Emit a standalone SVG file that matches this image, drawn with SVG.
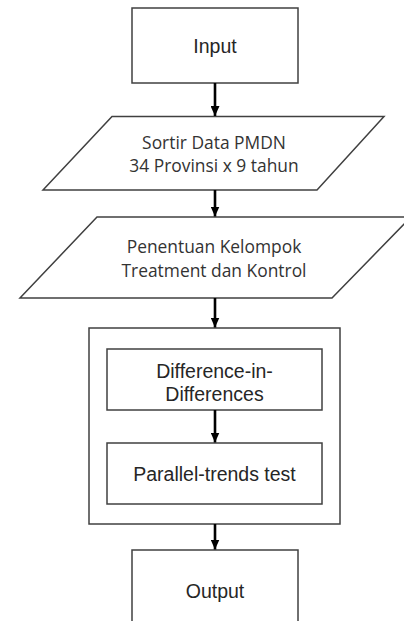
<svg xmlns="http://www.w3.org/2000/svg" width="404" height="621" viewBox="0 0 404 621">
  <defs>
    <marker id="arrowhead" markerUnits="userSpaceOnUse" markerWidth="10" markerHeight="9" refX="10" refY="4.5" orient="auto">
      <path d="M0,0 L10,4.5 L0,9 Z" fill="#000"/>
    </marker>
  </defs>
  <style>
    .shape { fill: #fff; stroke: #404040; stroke-width: 1.5; }
    .lbl { font-family: "Liberation Sans", Arial, sans-serif; font-size: 19.5px; fill: #262626; text-anchor: middle; }
    .lbl2 { font-family: "Open Sans", "Noto Sans", sans-serif; font-size: 17.4px; fill: #333; text-anchor: middle; }
    .conn { stroke: #000; stroke-width: 2.6; fill: none; marker-end: url(#arrowhead); }
  </style>
  <rect width="404" height="621" fill="#fff"/>

  <!-- outer container around the analysis steps -->
  <g id="analysis-group">
    <rect class="shape" x="89" y="328" width="251" height="196"/>
  </g>

  <g id="input">
    <rect class="shape" x="132" y="8" width="166" height="75"/>
    <text class="lbl" x="215" y="52.5">Input</text>
  </g>

  <g id="sortir-data">
    <polygon class="shape" points="112,116.5 384,116.5 317,190 43,190"/>
    <text class="lbl2" x="214" y="148.5">Sortir Data PMDN</text>
    <text class="lbl2" x="214" y="172">34 Provinsi x 9 tahun</text>
  </g>

  <g id="penentuan-kelompok">
    <polygon class="shape" points="97,217 411,217 332,298 20,298"/>
    <text class="lbl2" x="214" y="253">Penentuan Kelompok</text>
    <text class="lbl2" x="214" y="277">Treatment dan Kontrol</text>
  </g>

  <g id="did">
    <rect class="shape" x="107" y="349" width="215" height="61"/>
    <text class="lbl" x="214.5" y="377.5">Difference-in-</text>
    <text class="lbl" x="214.5" y="400.5">Differences</text>
  </g>

  <g id="parallel-trends">
    <rect class="shape" x="107" y="443" width="215" height="61"/>
    <text class="lbl" x="214.5" y="480.5">Parallel-trends test</text>
  </g>

  <g id="output">
    <rect class="shape" x="132" y="550" width="166" height="78"/>
    <text class="lbl" x="215" y="598">Output</text>
  </g>

  <g id="connectors">
    <line class="conn" x1="215" y1="83" x2="215" y2="116"/>
    <line class="conn" x1="215" y1="190" x2="215" y2="216.5"/>
    <line class="conn" x1="215" y1="298" x2="215" y2="327.5"/>
    <line class="conn" x1="215" y1="410" x2="215" y2="442.5"/>
    <line class="conn" x1="215" y1="524" x2="215" y2="549.5"/>
  </g>
</svg>
